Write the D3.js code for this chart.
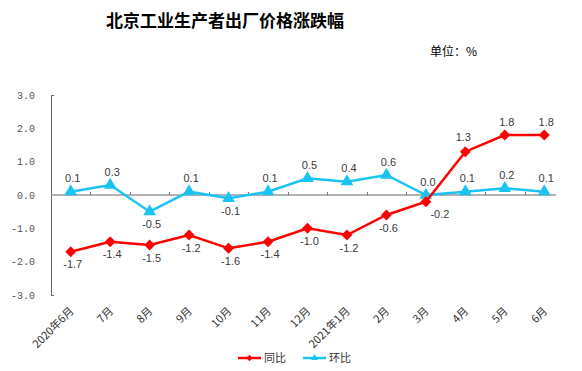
<html>
<head>
<meta charset="utf-8">
<script src="https://d3js.org/d3.v7.min.js"></script>
<style>
  body { margin: 0; background: #fff; }
  svg { font-family: "Noto Sans CJK SC", "Liberation Sans", sans-serif; }
  .title { font-size: 17px; font-weight: bold; fill: #000; }
  .unit { font-size: 12px; fill: #000; }
  .ytick { font-family: "Liberation Mono", monospace; font-size: 10px; fill: #555; }
  .xtick { font-size: 11px; fill: #333; }
  .lbl { font-family: "Liberation Sans", sans-serif; font-size: 11px; fill: #3a3a3a; }
  .legend { font-size: 11px; fill: #333; }
</style>
</head>
<body>
<div id="chart"></div>
<script>
var months = ["2020年6月", "7月", "8月", "9月", "10月", "11月", "12月",
              "2021年1月", "2月", "3月", "4月", "5月", "6月"];
var yoy = [-1.7, -1.4, -1.5, -1.2, -1.6, -1.4, -1.0, -1.2, -0.6, -0.2, 1.3, 1.8, 1.8];
var mom = [0.1, 0.3, -0.5, 0.1, -0.1, 0.1, 0.5, 0.4, 0.6, 0.0, 0.1, 0.2, 0.1];
var yTicks = [3, 2, 1, 0, -1, -2, -3];
// label placement: a = above, b = below, r = below right, l = above left
var yoyPos = ["b","b","b","b","b","b","b","b","b","r","l","a","a"];
var momPos = ["a","a","b","a","b","a","a","a","a","a","a","a","a"];

var width = 582, height = 371;
var red = "#ff0000", cyan = "#19c3f2";

var svg = d3.select("#chart").append("svg")
  .attr("width", width)
  .attr("height", height);

var x = d3.scaleBand().domain(months).range([51, 564]);
var y = d3.scaleLinear().domain([-3, 3]).range([295, 95]);
var cx = d => x(d) + x.bandwidth() / 2;

/* titles */
svg.append("text").attr("class", "title")
  .attr("x", 225).attr("y", 27).attr("text-anchor", "middle")
  .text("北京工业生产者出厂价格涨跌幅");
svg.append("text").attr("class", "unit")
  .attr("x", 430).attr("y", 56)
  .text("单位：%");

/* y axis */
var yAxis = d3.axisLeft(y).tickValues(yTicks).tickSizeInner(0).tickSizeOuter(-3)
  .tickPadding(16).tickFormat(d3.format(".1f"));
var yg = svg.append("g").attr("transform", "translate(51,0)").call(yAxis);
yg.select(".domain").attr("stroke", "#666");
yg.selectAll("text").attr("class", "ytick").attr("fill", null)
  .text(d => d3.format(".1f")(d).replace("−", "-"));

/* zero line with category ticks */
svg.append("line")
  .attr("x1", 51).attr("x2", 556)
  .attr("y1", y(0)).attr("y2", y(0))
  .attr("stroke", "#999").attr("stroke-width", 1.5);
svg.selectAll(".ctick").data(months.slice(1)).enter().append("line")
  .attr("x1", d => Math.round(x(d)) + 0.5).attr("x2", d => Math.round(x(d)) + 0.5)
  .attr("y1", y(0) - 3).attr("y2", y(0))
  .attr("stroke", "#777");

/* x tick labels */
svg.selectAll(".xtick").data(months).enter().append("text")
  .attr("class", "xtick")
  .attr("text-anchor", "end")
  .attr("transform", d => "translate(" + (cx(d) + 1) + ",309) rotate(-45)")
  .attr("dy", "0.35em")
  .text(d => d);

var line = d3.line().x((d, i) => cx(months[i])).y(d => y(d));

function series(vals, color, shape, pos) {
  svg.append("path").datum(vals)
    .attr("d", line)
    .attr("fill", "none").attr("stroke", color).attr("stroke-width", 2.5);
  svg.selectAll(null).data(vals).enter().append("path")
    .attr("d", d3.symbol().type(shape).size(shape === d3.symbolTriangle ? 70 : 60))
    .attr("transform", (d, i) => "translate(" + cx(months[i]) + "," + y(d) + ")" +
      (shape === d3.symbolSquare ? " rotate(45)" : ""))
    .attr("fill", color);
  svg.selectAll(null).data(vals).enter().append("text")
    .attr("class", "lbl")
    .attr("text-anchor", "middle")
    .attr("x", (d, i) => cx(months[i]) + 2 + (pos[i] === "r" ? 12 : pos[i] === "l" ? -4 : 0))
    .attr("y", (d, i) => y(d) + (pos[i] === "a" ? -9.5 : pos[i] === "l" ? -11 : 16.5))
    .text(d => d3.format(".1f")(d).replace("−", "-"));
}

series(mom, cyan, d3.symbolTriangle, momPos);
series(yoy, red, d3.symbolSquare, yoyPos);

/* legend */
var legend = [
  {name: "同比", color: red, shape: d3.symbolSquare, x: 238},
  {name: "环比", color: cyan, shape: d3.symbolTriangle, x: 303}
];
var lg = svg.selectAll(".lg").data(legend).enter().append("g")
  .attr("transform", d => "translate(" + d.x + ",358)");
lg.append("line").attr("x1", 0).attr("x2", 23)
  .attr("stroke", d => d.color).attr("stroke-width", 2.5);
lg.append("path")
  .attr("d", d => d3.symbol().type(d.shape).size(20)())
  .attr("transform", d => "translate(11.5,0)" + (d.shape === d3.symbolSquare ? " rotate(45)" : ""))
  .attr("fill", d => d.color);
lg.append("text").attr("class", "legend")
  .attr("x", 26).attr("dy", "0.38em")
  .text(d => d.name);
</script>
</body>
</html>
